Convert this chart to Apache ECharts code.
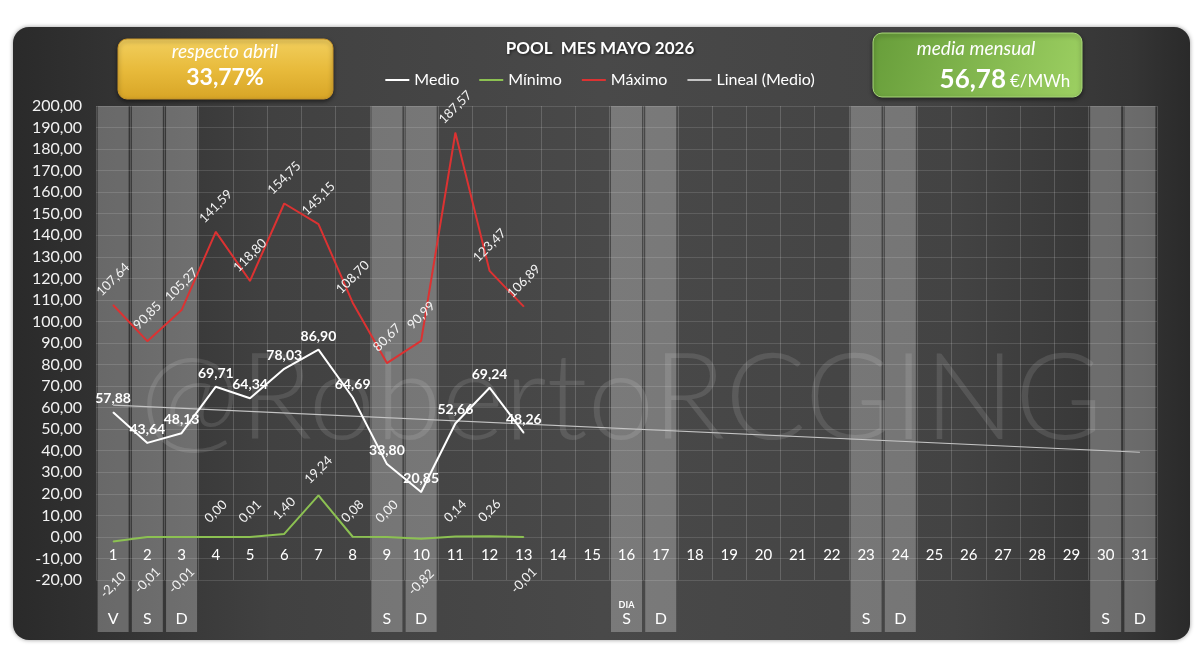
<!DOCTYPE html>
<html><head><meta charset="utf-8">
<script src="https://cdn.jsdelivr.net/npm/echarts@6/dist/echarts.min.js"></script>
<style>html,body{margin:0;padding:0;background:#fff}#c{width:1200px;height:666px}</style>
</head><body><div id="c"></div>
<script>
const days = ['1','2','3','4','5','6','7','8','9','10','11','12','13','14','15','16','17','18','19','20','21','22','23','24','25','26','27','28','29','30','31'];
const dayLetters = ['V','S','D','','','','','','S','D','','','','','','S','D','','','','','','S','D','','','','','','S','D'];
const medio  = [57.88, 43.64, 48.13, 69.71, 64.34, 78.03, 86.90, 64.69, 33.80, 20.85, 52.66, 69.24, 48.26];
const minimo = [-2.10, -0.01, -0.01, 0.00, 0.01, 1.40, 19.24, 0.08, 0.00, -0.82, 0.14, 0.26, -0.01];
const maximo = [107.64, 90.85, 105.27, 141.59, 118.80, 154.75, 145.15, 108.70, 80.67, 90.99, 187.57, 123.47, 106.89];
const trendStart = 61.15, trendEnd = 39.29;
const yMin = -20, yMax = 200, yStep = 10;
const respectoAbril = '33,77%';
const mediaMensual = '56,78';

const FONT = 'Lato, "Noto Sans", sans-serif';
const fmt = v => (typeof v === 'number' ? v : Number(v)).toFixed(2).replace('.', ',');
const trend = days.map(() => null);
trend[0] = trendStart; trend[days.length - 1] = trendEnd;
const weekend = dayLetters.map(l => l ? 1 : null);
const minimoData = minimo.map(v => v < 0 ? {value: v, label: {position: 'bottom', distance: 43}} : v);

// plot geometry (layout only)
const G = {left: 96, right: 43, top: 106, bottom: 86, stripBottom: 34};
const plotH = 666 - G.top - G.bottom;
const zeroFromBottom = G.bottom + plotH * (0 - yMin) / (yMax - yMin);

const rotLabel = {show: true, position: 'top', distance: 25, rotate: 45, align: 'center', verticalAlign: 'middle',
  color: '#f2f2f2', fontSize: 13, formatter: p => fmt(p.value), fontFamily: FONT};

const chart = echarts.init(document.getElementById('c'), null, {renderer: 'canvas'});
chart.setOption({
  backgroundColor: '#ffffff',
  animation: false,
  textStyle: {fontFamily: FONT},
  title: {
    text: 'POOL  MES MAYO 2026', left: 'center', top: 35,
    textStyle: {color: '#fff', fontSize: 17, fontWeight: 'bold', fontFamily: FONT,
      textShadowColor: 'rgba(0,0,0,0.6)', textShadowBlur: 3, textShadowOffsetX: 1, textShadowOffsetY: 1}
  },
  legend: {
    data: ['Medio', 'Mínimo', 'Máximo', 'Lineal (Medio)'],
    left: 'center', top: 67, itemWidth: 24, itemHeight: 2, itemGap: 20, icon: 'rect',
    textStyle: {color: '#fff', fontSize: 16, fontFamily: FONT}
  },
  graphic: [
    {type: 'rect', z: -10, shape: {x: 13, y: 27, width: 1177, height: 613, r: 16},
     style: {fill: new echarts.graphic.LinearGradient(0, 0, 1, 0, [
       {offset: 0, color: '#2a2a2a'}, {offset: 0.06, color: '#303030'}, {offset: 0.22, color: '#414141'},
       {offset: 0.5, color: '#494949'}, {offset: 0.8, color: '#434343'}, {offset: 0.95, color: '#353535'},
       {offset: 1, color: '#2a2a2a'}]),
       shadowColor: 'rgba(0,0,0,0.4)', shadowBlur: 4}},
    {type: 'text', z: 1, left: 140, top: 340,
     style: {text: '@RobertoRCGING', fontSize: 120, fontWeight: 300, fontFamily: FONT,
       fill: 'rgba(255,255,255,0.11)'}},
    {type: 'rect', z: 10, shape: {x: 118, y: 39, width: 215, height: 60, r: 9},
     style: {fill: new echarts.graphic.LinearGradient(0, 0, 0, 1, [
       {offset: 0, color: '#f2cf5e'}, {offset: 0.5, color: '#e8bb3c'}, {offset: 1, color: '#d8a526'}]),
       stroke: '#c9962a', lineWidth: 1, shadowColor: 'rgba(0,0,0,0.5)', shadowBlur: 4, shadowOffsetY: 2}},
    {type: 'text', z: 11, x: 225, y: 52,
     style: {text: 'respecto abril', fontSize: 19, fontStyle: 'italic', fill: '#fff', fontFamily: FONT, align: 'center', verticalAlign: 'middle'}},
    {type: 'text', z: 11, x: 225, y: 78,
     style: {text: respectoAbril, fontSize: 23, fontWeight: 'bold', fill: '#fff', fontFamily: FONT, align: 'center', verticalAlign: 'middle'}},
    {type: 'rect', z: 10, shape: {x: 873, y: 33, width: 209, height: 64, r: 9},
     style: {fill: new echarts.graphic.LinearGradient(0, 0, 1, 1, [
       {offset: 0, color: '#679d3a'}, {offset: 1, color: '#9dd062'}]),
       stroke: '#a9d97a', lineWidth: 1, shadowColor: 'rgba(0,0,0,0.5)', shadowBlur: 4, shadowOffsetY: 2}},
    {type: 'text', z: 11, x: 976, y: 49,
     style: {text: 'media mensual', fontSize: 19, fontStyle: 'italic', fill: '#fff', fontFamily: FONT, align: 'center', verticalAlign: 'middle'}},
    {type: 'text', z: 11, x: 1006, y: 80,
     style: {text: mediaMensual, fontSize: 26, fontWeight: 'bold', fill: '#fff', fontFamily: FONT, align: 'right', verticalAlign: 'middle'}},
    {type: 'text', z: 11, x: 1010, y: 82,
     style: {text: '€/MWh', fontSize: 17, fill: '#fff', fontFamily: FONT, align: 'left', verticalAlign: 'middle'}}
  ],
  grid: [
    {left: G.left, right: G.right, top: G.top, bottom: G.bottom},
    {left: G.left, right: G.right, top: G.top, bottom: G.stripBottom},
    {left: G.left, right: G.right, top: G.top, bottom: zeroFromBottom}
  ],
  xAxis: [
    {type: 'category', gridIndex: 0, data: days, boundaryGap: true,
     axisLine: {show: false}, axisTick: {show: false}, axisLabel: {show: false},
     splitLine: {show: true, interval: 0, lineStyle: {color: 'rgba(255,255,255,0.17)', width: 1}}},
    {type: 'category', gridIndex: 1, data: days, boundaryGap: true, show: false},
    {type: 'category', gridIndex: 2, data: days, boundaryGap: true, position: 'bottom',
     axisLine: {show: false}, axisTick: {show: false}, splitLine: {show: false},
     axisLabel: {color: '#fff', fontSize: 15, margin: 11, interval: 0, fontFamily: FONT}}
  ],
  yAxis: [
    {type: 'value', gridIndex: 0, min: yMin, max: yMax, interval: yStep,
     axisLine: {show: false}, axisTick: {show: false},
     axisLabel: {color: '#f2f2f2', fontSize: 16, margin: 14, formatter: v => fmt(v), fontFamily: FONT},
     splitLine: {lineStyle: {color: 'rgba(255,255,255,0.13)', width: 1}}},
    {type: 'value', gridIndex: 1, min: 0, max: 1, show: false},
    {type: 'value', gridIndex: 2, min: 0, max: 1, show: false}
  ],
  series: [
    {type: 'bar', name: 'finde', xAxisIndex: 1, yAxisIndex: 1, data: weekend, barWidth: 31, z: 1,
     itemStyle: {color: 'rgba(255,255,255,0.27)'}, silent: true,
     label: {show: true, position: 'insideBottom', distance: 5, color: '#fff', fontSize: 16, fontFamily: FONT,
       formatter: p => p.dataIndex === 15 ? '{s|DIA}\n' + dayLetters[p.dataIndex] : dayLetters[p.dataIndex],
       rich: {s: {fontSize: 9, fontWeight: 'bold', color: '#fff', lineHeight: 12, align: 'left'}}}},
    {type: 'line', name: 'Lineal (Medio)', data: trend, connectNulls: true, showSymbol: false, z: 3,
     lineStyle: {color: '#c4c4c4', width: 1.2}, itemStyle: {color: '#c4c4c4'}},
    {type: 'line', name: 'Máximo', data: maximo, showSymbol: true, symbol: 'circle', symbolSize: 1, z: 4,
     lineStyle: {color: '#dc3232', width: 2}, itemStyle: {color: '#dc3232'},
     label: rotLabel},
    {type: 'line', name: 'Mínimo', data: minimoData, showSymbol: true, symbol: 'circle', symbolSize: 1, z: 4,
     lineStyle: {color: '#8cc152', width: 2}, itemStyle: {color: '#8cc152'},
     label: rotLabel},
    {type: 'line', name: 'Medio', data: medio, showSymbol: true, symbol: 'circle', symbolSize: 1, z: 5,
     lineStyle: {color: '#ffffff', width: 2}, itemStyle: {color: '#ffffff'},
     label: {show: true, position: 'top', distance: 6, color: '#fff', fontSize: 14, fontWeight: 'bold',
       formatter: p => fmt(p.value), fontFamily: FONT}}
  ]
});
</script></body></html>
